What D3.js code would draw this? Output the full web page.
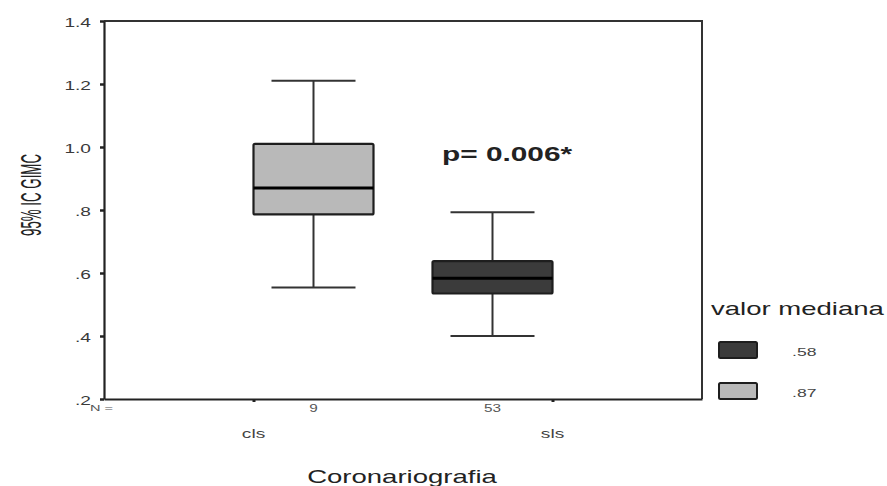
<!DOCTYPE html>
<html>
<head>
<meta charset="utf-8">
<script src="https://cdn.jsdelivr.net/npm/d3@7"></script>
<style>
  body { margin: 0; background: #fff; }
  svg { display: block; font-family: "Liberation Sans", Arial, sans-serif; }
</style>
</head>
<body>
<svg id="chart" width="887" height="486"></svg>
<script>
// --- Data ---
const categories = ["cls", "sls"];
const groupN = [9, 53];
const boxSeries = [".87", ".58"];        // legend key of each box
const whiskerLow = [0.554, 0.40];
const q1 = [0.786, 0.535];
const median = [0.870, 0.583];
const q3 = [1.010, 0.638];
const whiskerHigh = [1.210, 0.793];

const legendKeys = [".58", ".87"];
const legendColors = ["#3b3b3b", "#b9b9b9"];
const yTicks = [0.2, 0.4, 0.6, 0.8, 1.0, 1.2, 1.4];
const yTickLabels = [".2", ".4", ".6", ".8", "1.0", "1.2", "1.4"];

// --- Layout ---
const SX = 1.53; // picture text is stretched horizontally
const plot = { left: 104, right: 702, top: 21, bottom: 399 };
const svg = d3.select("#chart");

const y = d3.scaleLinear().domain([0.2, 1.4]).range([plot.bottom, plot.top]);
const x = d3.scalePoint().domain(categories).range([plot.left, plot.right]).padding(0.5);
const inner = d3.scaleBand().domain(legendKeys).range([-120, 120]).padding(0);
const color = d3.scaleOrdinal().domain(legendKeys).range(legendColors);

function stext(px, py, str, size, opts = {}) {
    return svg.append("text")
        .attr("transform", `translate(${px},${py}) scale(${SX},1)`)
        .attr("text-anchor", opts.anchor || "start")
        .attr("font-size", size)
        .attr("font-weight", opts.weight || "normal")
        .attr("fill", opts.fill || "#222")
        .text(str);
}

// frame (top + right)
svg.append("path")
    .attr("d", `M${plot.left},${plot.top}H${plot.right}V${plot.bottom}`)
    .attr("fill", "none").attr("stroke", "#333").attr("stroke-width", 2);

// --- Axes ---
const yAxis = svg.append("g")
    .attr("transform", `translate(${plot.left},0)`)
    .call(d3.axisLeft(y).tickValues(yTicks).tickSize(4).tickSizeOuter(0).tickPadding(0)
        .tickFormat((d, i) => yTickLabels[i]));
yAxis.select(".domain").attr("stroke", "#222").attr("stroke-width", 2.2);
yAxis.selectAll(".tick line").attr("stroke", "#222").attr("stroke-width", 2.5);
yAxis.selectAll(".tick text")
    .attr("x", null)
    .attr("transform", `translate(-13,1) scale(${SX},1)`)
    .attr("font-size", 12.5).attr("font-family", null)
    .attr("fill", "#3a3a3a");

const xAxis = svg.append("g")
    .attr("transform", `translate(0,${plot.bottom})`)
    .call(d3.axisBottom(x).tickSize(3).tickSizeOuter(0).tickFormat(""));
xAxis.select(".domain").attr("stroke", "#222").attr("stroke-width", 2.2);
xAxis.selectAll(".tick line").attr("stroke", "#222").attr("stroke-width", 3);

// --- Boxes ---
const boxW = inner.bandwidth();
const capW = boxW * 0.7;
categories.forEach((c, i) => {
    const cx = x(c) + inner(boxSeries[i]) + boxW / 2;
    const g = svg.append("g");
    g.append("line")
        .attr("x1", cx).attr("x2", cx)
        .attr("y1", y(whiskerHigh[i])).attr("y2", y(whiskerLow[i]))
        .attr("stroke", "#333").attr("stroke-width", 2);
    [whiskerHigh[i], whiskerLow[i]].forEach(v => {
        g.append("line")
            .attr("x1", cx - capW / 2).attr("x2", cx + capW / 2)
            .attr("y1", y(v)).attr("y2", y(v))
            .attr("stroke", "#333").attr("stroke-width", 2);
    });
    g.append("rect")
        .attr("x", cx - boxW / 2).attr("width", boxW)
        .attr("y", y(q3[i])).attr("height", y(q1[i]) - y(q3[i]))
        .attr("rx", 1.5)
        .attr("fill", color(boxSeries[i])).attr("stroke", "#1e1e1e").attr("stroke-width", 2.2);
    g.append("line")
        .attr("x1", cx - boxW / 2).attr("x2", cx + boxW / 2)
        .attr("y1", y(median[i])).attr("y2", y(median[i]))
        .attr("stroke", "#000").attr("stroke-width", 3);

    // N label under box, category label under tick
    stext(cx, 412, String(groupN[i]), 10, { anchor: "middle", fill: "#555" });
    stext(x(c), 438, c, 12.5, { anchor: "middle", fill: "#444" });
});
stext(90, 411, "N =", 9.5, { fill: "#555" });

// --- Texts ---
stext(442, 161, "p= 0.006*", 19.5, { weight: "bold", fill: "#222" });
stext(402, 483, "Coronariografia", 18, { anchor: "middle", fill: "#222" });

svg.append("text")
    .attr("transform", `translate(41,195) scale(${SX},1) rotate(-90)`)
    .attr("text-anchor", "middle")
    .attr("font-size", 19.5)
    .attr("textLength", 82).attr("lengthAdjust", "spacingAndGlyphs")
    .attr("fill", "#222")
    .text("95% IC GIMC");

// --- Legend ---
stext(711, 315, "valor mediana", 18, { fill: "#222" });
legendKeys.forEach((k, i) => {
    const ly = 342 + i * 41;
    svg.append("rect")
        .attr("x", 719).attr("y", ly).attr("width", 38).attr("height", 16)
        .attr("rx", 1.5)
        .attr("fill", color(k)).attr("stroke", "#1e1e1e").attr("stroke-width", 2);
    stext(792, ly + 14, k, 11.5, { fill: "#444" });
});
</script>
</body>
</html>
